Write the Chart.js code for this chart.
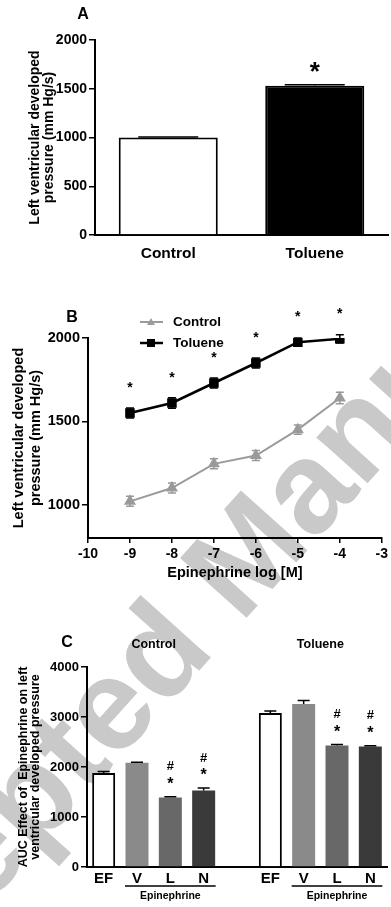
<!DOCTYPE html>
<html>
<head>
<meta charset="utf-8">
<script src="https://cdn.jsdelivr.net/npm/chart.js@4.4.1/dist/chart.umd.min.js"></script>
<style>
  html, body { margin: 0; padding: 0; background: #fff; }
  #page { position: relative; width: 391px; height: 907px; overflow: hidden; }
  canvas { position: absolute; left: 0; }
  #wm {
    position: absolute; left: -175px; top: 976px;
    font: bold 130px 'Liberation Sans', Arial, sans-serif; line-height: 130px;
    color: #c9c9c9; white-space: nowrap;
    transform-origin: 0 110px; transform: rotate(-48deg);
  }
</style>
</head>
<body>
<div id="page">
  <div id="wm">Accepted Manuscript</div>
  <canvas id="chartA" width="391" height="270" style="top:0"></canvas>
  <canvas id="chartB" width="391" height="300" style="top:290px"></canvas>
  <canvas id="chartC" width="391" height="307" style="top:600px"></canvas>
</div>
<script>
// panel A
const catsA = ['Control', 'Toluene'];
const valuesA = [1000, 1530];
const errorsA = [5, 12];
const yTicksA = [0, 500, 1000, 1500, 2000];

// panel B
const doseB = [-9, -8, -7, -6, -5, -4];
const controlB = [1020, 1100, 1245, 1295, 1450, 1640];
const controlErrB = [30, 30, 30, 30, 28, 35];
const tolueneB = [1550, 1610, 1730, 1850, 1975, 1995];
const tolueneErrB = [30, 32, 30, 30, 25, 25];
const yTicksB = [1000, 1500, 2000];
const xTicksB = [-10, -9, -8, -7, -6, -5, -4, -3];

// panel C
const catsC = ['EF', 'V', 'L', 'N', '', 'EF', 'V', 'L', 'N'];
const controlC = [1880, 2085, 1390, 1530];
const controlErrC = [30, 10, 15, 50];
const tolueneC = [3080, 3260, 2430, 2410];
const tolueneErrC = [40, 70, 20, 15];
const controlSigC = ['', '', '*#', '*#'];
const tolueneSigC = ['', '', '*#', '*#'];
const yTicksC = [0, 1000, 2000, 3000, 4000];

Chart.defaults.font.family = "'Liberation Sans', Arial, sans-serif";
Chart.defaults.font.weight = 'bold';
Chart.defaults.color = '#000';

const BOLD = "'Liberation Sans', Arial, sans-serif";

// error bars from dataset.errors
const errorBars = {
  id: 'errorBars',
  afterDatasetsDraw(chart, args, opts) {
    const ctx = chart.ctx;
    const ys = chart.scales.y;
    chart.data.datasets.forEach((ds, i) => {
      if (!ds.errors) return;
      const meta = chart.getDatasetMeta(i);
      meta.data.forEach((el, j) => {
        let v = ds.data[j];
        if (v && typeof v === 'object') v = v.y;
        const e = ds.errors[j];
        if (v == null || !e) return;
        const x = el.x;
        const top = ys.getPixelForValue(v + e);
        const bot = opts.upOnly ? ys.getPixelForValue(v) : ys.getPixelForValue(v - e);
        ctx.save();
        ctx.strokeStyle = ds.errorColor || '#000';
        ctx.lineWidth = 1.5;
        ctx.beginPath();
        ctx.moveTo(x, top); ctx.lineTo(x, bot);
        ctx.moveTo(x - opts.cap, top); ctx.lineTo(x + opts.cap, top);
        if (!opts.upOnly) { ctx.moveTo(x - opts.cap, bot); ctx.lineTo(x + opts.cap, bot); }
        ctx.stroke();
        ctx.restore();
      });
    });
  }
};

function text(ctx, str, x, y, size, align) {
  ctx.save();
  ctx.font = 'bold ' + size + 'px ' + BOLD;
  ctx.fillStyle = '#000';
  ctx.textAlign = align || 'center';
  ctx.textBaseline = 'middle';
  ctx.fillText(str, x, y);
  ctx.restore();
}

function yAxis(ticks, min, max, width, title, titleSize, titleLH, titlePad, tickSize) {
  return {
    min: min, max: max,
    afterBuildTicks: s => { s.ticks = ticks.map(v => ({ value: v })); },
    afterFit: s => { s.width = width; },
    grid: { drawOnChartArea: false, tickLength: 6, color: '#000', lineWidth: 1.5 },
    border: { color: '#000', width: 2 },
    ticks: { font: { size: tickSize, weight: 'bold' }, color: '#000', padding: 2, callback: v => String(v) },
    title: { display: true, text: title, color: '#000', font: { size: titleSize, weight: 'bold', lineHeight: titleLH }, padding: { top: titlePad, bottom: 0 } }
  };
}

// ---- A ----
new Chart(document.getElementById('chartA'), {
  type: 'bar',
  data: {
    labels: catsA,
    datasets: [{
      data: valuesA,
      errors: errorsA,
      backgroundColor: ['#ffffff', '#000000'],
      borderColor: '#000',
      borderWidth: 2,
      barPercentage: 0.676,
      categoryPercentage: 1
    }]
  },
  options: {
    responsive: false,
    animation: false,
    layout: { padding: { top: 40, right: 3, left: 0, bottom: 0 } },
    plugins: { legend: { display: false }, tooltip: { enabled: false }, errorBars: { cap: 30, upOnly: true } },
    scales: {
      x: {
        afterFit: s => { s.height = 35; },
        grid: { display: false, drawTicks: false },
        border: { color: '#000', width: 2 },
        ticks: { font: { size: 15.5, weight: 'bold' }, color: '#000', padding: 9 }
      },
      y: yAxis(yTicksA, 0, 2000, 95, ['Left ventricular developed', 'pressure (mm Hg/s)'], 14, 1.0, 28, 14)
    }
  },
  plugins: [errorBars, {
    id: 'extrasA',
    afterDraw(chart) {
      const ctx = chart.ctx;
      text(ctx, 'A', 83, 15, 16);
      const el = chart.getDatasetMeta(0).data[1];
      const top = chart.scales.y.getPixelForValue(valuesA[1] + errorsA[1]);
      text(ctx, '*', el.x, top - 12, 26);
    }
  }]
});

// ---- B ----
new Chart(document.getElementById('chartB'), {
  type: 'line',
  data: {
    datasets: [{
      label: 'Control',
      data: doseB.map((d, i) => ({ x: d, y: controlB[i] })),
      errors: controlErrB,
      errorColor: '#999',
      borderColor: '#9b9b9b',
      backgroundColor: '#9b9b9b',
      pointStyle: 'triangle',
      pointRadius: 5,
      borderWidth: 2
    }, {
      label: 'Toluene',
      data: doseB.map((d, i) => ({ x: d, y: tolueneB[i] })),
      errors: tolueneErrB,
      borderColor: '#000',
      backgroundColor: '#000',
      pointStyle: 'rect',
      pointRadius: 5,
      borderWidth: 2.5
    }]
  },
  options: {
    responsive: false,
    animation: false,
    layout: { padding: { top: 48, right: 3, left: 0, bottom: 0 } },
    plugins: { legend: { display: false }, tooltip: { enabled: false }, errorBars: { cap: 4 } },
    scales: {
      x: {
        type: 'linear', min: -10, max: -3,
        afterBuildTicks: s => { s.ticks = xTicksB.map(v => ({ value: v })); },
        afterFit: s => { s.height = 52; },
        grid: { drawOnChartArea: false, tickLength: 5, color: '#000', lineWidth: 1.5 },
        border: { color: '#000', width: 2 },
        ticks: { font: { size: 14, weight: 'bold' }, color: '#000', padding: 3, callback: v => String(v) },
        title: { display: true, text: 'Epinephrine log [M]', color: '#000', font: { size: 14.5, weight: 'bold' }, padding: { top: 0, bottom: 8 } }
      },
      y: yAxis(yTicksB, 800, 2000, 88, ['Left ventricular developed', 'pressure (mm Hg/s)'], 14.5, 1.15, 11, 14.5)
    }
  },
  plugins: [errorBars, {
    id: 'extrasB',
    afterDraw(chart) {
      const ctx = chart.ctx;
      text(ctx, 'B', 72, 28, 16);
      // significance over toluene points
      chart.getDatasetMeta(1).data.forEach(el => { text(ctx, '*', el.x, el.y - 25, 14); });
      // legend
      chart.data.datasets.forEach((ds, i) => {
        const y = 32 + i * 21;
        ctx.save();
        ctx.strokeStyle = ds.borderColor;
        ctx.lineWidth = ds.borderWidth;
        ctx.beginPath(); ctx.moveTo(140, y); ctx.lineTo(163, y); ctx.stroke();
        ctx.fillStyle = ds.backgroundColor;
        if (ds.pointStyle === 'rect') {
          ctx.fillRect(147, y - 4, 8, 8);
        } else {
          ctx.beginPath(); ctx.moveTo(151, y - 4); ctx.lineTo(155, y + 3); ctx.lineTo(147, y + 3); ctx.closePath(); ctx.fill();
        }
        ctx.restore();
        text(ctx, ds.label, 173, y, 13.5, 'left');
      });
    }
  }]
});

// ---- C ----
const fillsC = ['#ffffff', '#8a8a8a', '#686868', '#3a3a3a'];
const bordersC = [2, 0, 0, 0];
new Chart(document.getElementById('chartC'), {
  type: 'bar',
  data: {
    labels: catsC,
    datasets: [{
      data: [...controlC, null, ...tolueneC],
      errors: [...controlErrC, 0, ...tolueneErrC],
      backgroundColor: [...fillsC, 'rgba(0,0,0,0)', ...fillsC],
      borderColor: '#000',
      borderWidth: [...bordersC, 0, ...bordersC],
      barPercentage: 0.69,
      categoryPercentage: 1
    }]
  },
  options: {
    responsive: false,
    animation: false,
    layout: { padding: { top: 67, right: 4, left: 0, bottom: 0 } },
    plugins: { legend: { display: false }, tooltip: { enabled: false }, errorBars: { cap: 6, upOnly: true } },
    scales: {
      x: {
        afterFit: s => { s.height = 40; },
        grid: { display: false, drawTicks: false },
        border: { color: '#000', width: 2 },
        ticks: { font: { size: 15, weight: 'bold' }, color: '#000', padding: 3 }
      },
      y: yAxis(yTicksC, 0, 4000, 87, ['AUC Effect of  Epinephrine on left', 'ventricular developed pressure'], 12.5, 1.0, 17, 13)
    }
  },
  plugins: [errorBars, {
    id: 'extrasC',
    afterDraw(chart) {
      const ctx = chart.ctx;
      const ys = chart.scales.y;
      const bars = chart.getDatasetMeta(0).data;
      text(ctx, 'C', 67, 43, 16);
      const groups = [
        { name: 'Control', start: 0, vals: controlC, errs: controlErrC, sig: controlSigC },
        { name: 'Toluene', start: 5, vals: tolueneC, errs: tolueneErrC, sig: tolueneSigC }
      ];
      groups.forEach(g => {
        const first = bars[g.start], last = bars[g.start + 3];
        text(ctx, g.name, (first.x + last.x) / 2, 45, 12.5);
        // Epinephrine bracket under V, L, N
        const v = bars[g.start + 1];
        ctx.save();
        ctx.strokeStyle = '#000'; ctx.lineWidth = 1.5;
        ctx.beginPath(); ctx.moveTo(v.x - 12, 286); ctx.lineTo(last.x + 12, 286); ctx.stroke();
        ctx.restore();
        text(ctx, 'Epinephrine', (v.x + last.x) / 2, 296, 10.5);
        g.sig.forEach((s, k) => {
          if (!s) return;
          const x = bars[g.start + k].x;
          const top = ys.getPixelForValue(g.vals[k] + g.errs[k]);
          if (s.includes('*')) text(ctx, '*', x, top - 12, 16);
          if (s.includes('#')) text(ctx, '#', x, top - 30, 13);
        });
      });
    }
  }]
});
</script>
</body>
</html>
